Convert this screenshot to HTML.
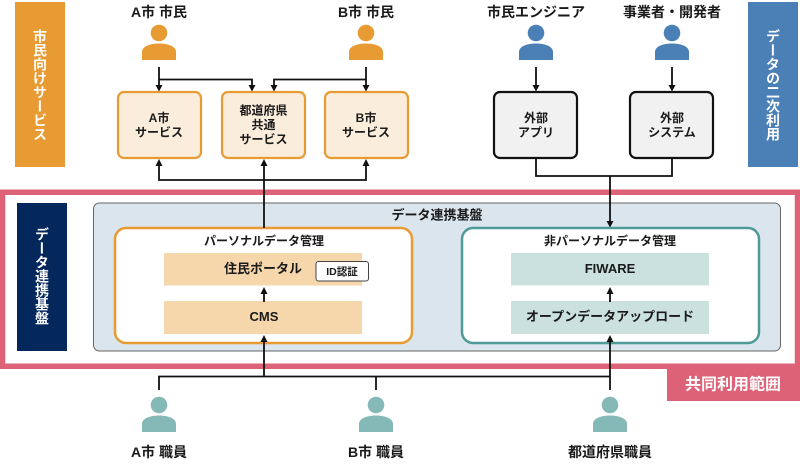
<!DOCTYPE html>
<html lang="ja"><head><meta charset="utf-8"><style>
html,body{margin:0;padding:0;background:#fff;width:800px;height:469px;overflow:hidden}
svg{display:block}
text{font-family:"Liberation Sans","Noto Sans CJK JP",sans-serif;font-weight:700;fill:#1a1a1a;text-anchor:middle;font-size:12px}
.l{font-size:14px}
.m{font-size:13px}
.v{font-size:14px;fill:#fff;writing-mode:vertical-rl;text-anchor:start}
.ln{stroke:#111;stroke-width:1.8;fill:none}
</style></head><body>
<svg width="800" height="469" viewBox="0 0 800 469" xmlns="http://www.w3.org/2000/svg">
<defs>
<g id="p"><circle cx="0" cy="0" r="8.3"/><path d="M-17 27V19C-17 13-8 10.500 0 10.500S17 13 17 19V27Z"/></g>
</defs>
<rect x="15" y="2" width="50" height="165" fill="#e89a33"/>
<rect x="748" y="2" width="50" height="165" fill="#4a80b5"/>
<text class="v" x="40" y="29">市民向けサービス</text>
<text class="v" x="773" y="29">データの二次利用</text>

<g fill="#e89a33"><use href="#p" x="159" y="33"/><use href="#p" x="366" y="33"/></g>
<g fill="#4a80b5"><use href="#p" x="536" y="33"/><use href="#p" x="672" y="33"/></g>
<g fill="#84b9b7"><use href="#p" x="159" y="405"/><use href="#p" x="376" y="405"/><use href="#p" x="610" y="405"/></g>

<text class="l" x="159" y="17">A市 市民</text>
<text class="l" x="366" y="17">B市 市民</text>
<text class="l" x="536" y="17">市民エンジニア</text>
<text class="l" x="672" y="17">事業者・開発者</text>
<text class="l" x="159" y="457">A市 職員</text>
<text class="l" x="376" y="457">B市 職員</text>
<text class="l" x="610" y="457">都道府県職員</text>

<!-- pink range -->
<rect x="2.500" y="192.250" width="795" height="174" fill="#fff" stroke="#dd6277" stroke-width="5.500"/>
<rect x="667" y="366" width="133" height="35" fill="#dd6277"/>
<text x="733" y="389.500" style="font-size:16px;fill:#fff">共同利用範囲</text>

<rect x="17" y="203" width="50" height="148" fill="#04275c"/>
<text class="v" x="42" y="227">データ連携基盤</text>

<rect x="93.500" y="203" width="687" height="148" rx="6" fill="#dae5ee" stroke="#666" stroke-width="1"/>
<text class="m" x="437" y="219.500">データ連携基盤</text>

<rect x="115" y="228" width="297" height="115" rx="11" fill="#fff" stroke="#e89a33" stroke-width="2.500"/>
<rect x="462" y="228" width="297" height="115" rx="11" fill="#fff" stroke="#4d9a98" stroke-width="2.500"/>
<text x="264" y="245">パーソナルデータ管理</text>
<text x="610" y="245">非パーソナルデータ管理</text>

<g fill="#f6d6ab"><rect x="164" y="253" width="198" height="32.500"/><rect x="164" y="301" width="198" height="33"/></g>
<g fill="#cbe1de"><rect x="511" y="253" width="198" height="32.500"/><rect x="511" y="301" width="198" height="33"/></g>
<text class="m" x="263" y="273">住民ポータル</text>
<text class="m" x="264" y="321">CMS</text>
<text class="m" x="610" y="273">FIWARE</text>
<text class="m" x="610" y="321">オープンデータアップロード</text>
<rect x="316" y="261.500" width="52.500" height="19.500" rx="2.500" fill="#fff" stroke="#444" stroke-width="1"/>
<text x="342" y="275" style="font-size:10.500px">ID認証</text>

<!-- service boxes -->
<g fill="#fbeddc" stroke="#e89a33" stroke-width="2.200">
<rect x="118" y="92" width="83" height="66" rx="6"/>
<rect x="222" y="92" width="83" height="66" rx="6"/>
<rect x="325" y="92" width="83" height="66" rx="6"/>
</g>
<g fill="#f1f1f1" stroke="#111" stroke-width="2.200">
<rect x="494" y="92" width="83" height="66" rx="6"/>
<rect x="630" y="92" width="83" height="66" rx="6"/>
</g>
<text x="159" y="122">A市</text><text x="159" y="136.500">サービス</text>
<text x="263.500" y="114.500">都道府県</text><text x="263.500" y="129">共通</text><text x="263.500" y="143.500">サービス</text>
<text x="366" y="122">B市</text><text x="366" y="136.500">サービス</text>
<text x="536" y="122">外部</text><text x="536" y="136.500">アプリ</text>
<text x="672" y="122">外部</text><text x="672" y="136.500">システム</text>

<!-- connectors -->
<g class="ln">
<path d="M159 67V86M159 79.500H252V86M366 67V86M366 79.500H274V86"/>
<path d="M536 67V86M672 67V86"/>
<path d="M159 165V180H366V165M264 165V228"/>
<path d="M536 158V176H672V158M610 176V222"/>
<path d="M264 302V293M610 302V293"/>
<path d="M264 342V376.500M610 342V390"/>
<path d="M159 390V376.500H610M376 376.500V390"/>
</g>
<g fill="#111">
<path d="M155.500 85h7l-3.500 6.500zM248.500 85h7l-3.500 6.500zM270.500 85h7l-3.500 6.500zM362.500 85h7l-3.500 6.500zM532.500 85h7l-3.500 6.500zM668.500 85h7l-3.500 6.500z"/>
<path d="M155.500 166h7l-3.500-7zM260.500 166h7l-3.500-7zM362.500 166h7l-3.500-7z"/>
<path d="M606.500 221h7l-3.500 6.500z"/>
<path d="M260.500 294h7l-3.500-7zM606.500 294h7l-3.500-7zM260.500 342h7l-3.500-7zM606.500 342h7l-3.500-7z"/>
</g>
</svg>
</body></html>
